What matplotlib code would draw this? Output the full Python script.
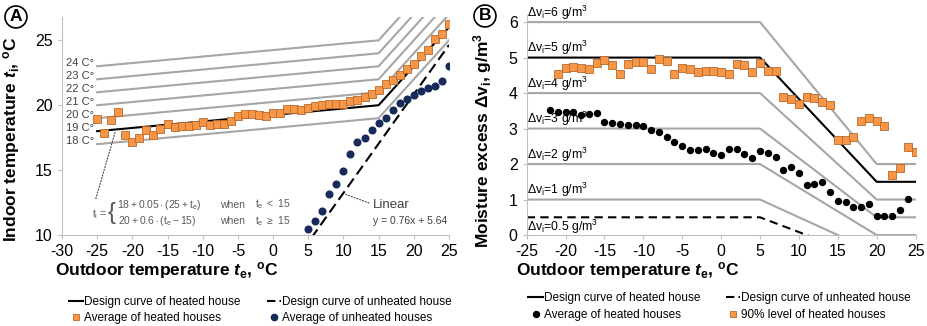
import numpy as np
import matplotlib.pyplot as plt
from matplotlib.lines import Line2D

plt.rcParams['font.family'] = ['Liberation Sans', 'DejaVu Sans']
plt.rcParams['axes.unicode_minus'] = False
plt.rcParams['mathtext.fontset'] = 'custom'
plt.rcParams['mathtext.rm'] = 'Liberation Sans'
plt.rcParams['mathtext.it'] = 'Liberation Sans:italic'
plt.rcParams['mathtext.bf'] = 'Liberation Sans:bold'
plt.rcParams['mathtext.bfit'] = 'Liberation Sans:bold:italic'

# ---- panel A data ----
te_heated = list(range(-25, 26))
ti_heated = [18.92, 17.87, 18.85, 19.47, 17.68, 17.19, 17.45, 18.07, 17.71, 18.15,
             18.59, 18.36, 18.41, 18.41, 18.49, 18.69, 18.49, 18.57, 18.57, 18.82,
             19.16, 19.36, 19.29, 19.23, 19.2, 19.39, 19.4, 19.7, 19.72, 19.62,
             19.81, 19.91, 20.01, 20.12, 20.12, 20.13, 20.32, 20.37, 20.63, 20.86,
             21.2, 21.64, 21.98, 22.36, 22.78, 23.19, 23.76, 24.27, 25.12, 25.46, 26.29]
te_unheated = list(range(5, 26))
ti_unheated = [10.46, 11.1, 11.88, 13.2, 13.94, 14.9, 16.24, 17.14, 17.5, 18.07,
               18.61, 19.05, 19.65, 20.14, 20.45, 20.81, 21.07, 21.36, 21.51, 21.84, 23.0]
ti_base = [17, 18, 19, 20, 21, 22, 23]          # indoor temp at te = -25
ti_labels = ['18 C°', '19 C°', '20 C°', '21 C°', '22 C°', '23 C°', '24 C°']
lin_slope, lin_icpt = 0.76, 5.64

# ---- panel B data ----
te_avg = list(range(-22, 25))
dv_avg = [3.52, 3.46, 3.46, 3.46, 3.37, 3.41, 3.43, 3.18, 3.15, 3.13, 3.11, 3.1, 3.08,
          2.97, 2.9, 2.77, 2.61, 2.51, 2.39, 2.39, 2.42, 2.32, 2.25, 2.43, 2.43,
          2.28, 2.16, 2.37, 2.31, 2.2, 1.84, 1.92, 1.76, 1.42, 1.45, 1.5, 1.21,
          0.96, 0.94, 0.78, 0.78, 0.88, 0.53, 0.53, 0.53, 0.70, 1.01]
te_90 = list(range(-21, 26))
dv_90 = [4.54, 4.7, 4.73, 4.7, 4.68, 4.85, 4.92, 4.78, 4.53, 4.81, 4.87, 4.87, 4.69,
         4.95, 4.9, 4.54, 4.7, 4.67, 4.6, 4.63, 4.63, 4.59, 4.54, 4.81, 4.79, 4.59,
         4.85, 4.61, 4.62, 3.9, 3.84, 3.7, 3.9, 3.87, 3.76, 3.66, 2.68, 2.68, 2.75,
         3.2, 3.3, 3.2, 3.06, 1.69, 1.9, 2.47, 2.33]
dv_levels = [6, 5, 4, 3, 2, 1, 0.5]
dv_labels = ['6', '5', '4', '3', '2', '1', '0.5']

ORANGE = '#f79646'
ORANGE_EDGE = '#b66a2c'
NAVY = '#172a5a'
GRAY = '#a6a6a6'
AXGRAY = '#bfbfbf'
TXT = '#404040'


def ti_curve(base, te):
    te = np.asarray(te, float)
    return np.where(te < 15, base + 0.05 * (25 + te), base + 2 + 0.6 * (te - 15))


def dv_curve(v, te):
    te = np.asarray(te, float)
    end = (v - 2) / 2
    return np.where(te <= 5, v, np.where(te >= 20, end, v + (end - v) * (te - 5) / 15))


def style_axes(ax):
    for s in ['top', 'right']:
        ax.spines[s].set_visible(False)
    for s in ['left', 'bottom']:
        ax.spines[s].set_color(AXGRAY)
    ax.tick_params(axis='both', colors=AXGRAY, labelcolor='black', labelsize=11.5,
                   length=3, width=0.8)


fig = plt.figure(figsize=(9.28, 3.26), dpi=100)

# ================= panel A =================
ax1 = fig.add_axes([0.0668, 0.279, 0.417, 0.669])
te_line = np.array([-25, 15, 25])
for base in ti_base:
    if base == 18:
        continue
    ax1.plot(te_line, ti_curve(base, te_line), color=GRAY, lw=1.5, zorder=1)
for base, lab in zip(ti_base, ti_labels):
    ax1.text(-25.4, base + 0.25, lab, ha='right', va='center', fontsize=8, color=TXT)
ax1.plot(te_line, ti_curve(18, te_line), color='black', lw=1.5, zorder=2)
te_lin = np.array([-30, 25])
ax1.plot(te_lin, lin_slope * te_lin + lin_icpt, color='black', lw=1.5,
         ls=(0, (5, 2.5)), zorder=2)
ax1.plot(te_heated, ti_heated, ls='none', marker='s', ms=5.5, mfc=ORANGE,
         mec=ORANGE_EDGE, mew=0.6, zorder=3)
ax1.plot(te_unheated, ti_unheated, ls='none', marker='o', ms=4.8, color=NAVY, zorder=3)

ax1.set_xlim(-30, 25)
ax1.set_ylim(10, 26.8)
ax1.set_xticks(range(-30, 26, 5))
ax1.set_yticks([10, 15, 20, 25])
style_axes(ax1)
ax1.set_xlabel(r'Outdoor temperature $\mathbfit{t}_\mathbf{e}$, $^\mathbf{o}$C',
               fontsize=12.5, fontweight='bold')
ax1.xaxis.set_label_coords(0.27, -0.115)
ax1.set_ylabel(r'Indoor temperature $\mathbfit{t}_\mathbf{i}$, $^\mathbf{o}$C',
               fontsize=12.5, fontweight='bold')
ax1.yaxis.set_label_coords(-0.103, 0.44)

# formula
fcol = '#595959'
ax1.text(-25.8, 11.65, r'$\mathrm{t}_\mathrm{i}$ =', fontsize=7.5, color=fcol, va='center')
ax1.text(-23.5, 11.7, '{', fontsize=17, color=fcol, va='center')
ax1.text(-22.2, 12.35, r'$18 + 0.05\cdot(25 + \mathrm{t}_\mathrm{e})$', fontsize=7.5,
         color=fcol, va='center')
ax1.text(-22.0, 11.1, r'$20 + 0.6\cdot(\mathrm{t}_\mathrm{e} - 15)$', fontsize=7.5,
         color=fcol, va='center')
ax1.text(-7.6, 12.35, 'when', fontsize=7.5, color=fcol, va='center')
ax1.text(-7.6, 11.1, 'when', fontsize=7.5, color=fcol, va='center')
ax1.text(-2.6, 12.35, r'$\mathrm{t}_\mathrm{e}\ <\ 15$', fontsize=7.5, color=fcol, va='center')
ax1.text(-2.6, 11.1, r'$\mathrm{t}_\mathrm{e}\ \geq\ 15$', fontsize=7.5, color=fcol, va='center')
ax1.annotate('', xy=(-22.3, 18.2), xytext=(-25.3, 12.6),
             arrowprops=dict(arrowstyle='-', ls=':', color='#404040', lw=0.8))
ax1.annotate('', xy=(9.95, lin_slope * 9.95 + lin_icpt), xytext=(14.0, 12.4),
             arrowprops=dict(arrowstyle='-', ls=':', color='#404040', lw=0.8))
ax1.text(14.15, 12.35, 'Linear', fontsize=9.5, color=TXT, va='center')
ax1.text(14.15, 11.1, 'y = 0.76x + 5.64', fontsize=7.5, color=TXT, va='center')

leg1 = [Line2D([], [], color='black', lw=1.5),
        Line2D([], [], ls='none', marker='s', ms=5, mfc=ORANGE, mec=ORANGE_EDGE, mew=0.6),
        Line2D([], [], color='black', lw=1.5, ls=(0, (4, 2))),
        Line2D([], [], ls='none', marker='o', ms=4.5, color=NAVY)]
ax1.legend(leg1, ['Design curve of heated house', 'Average of heated houses',
                  'Design curve of unheated house', 'Average of unheated houses'],
           ncol=2, frameon=False, fontsize=8.5, handlelength=1.2, handletextpad=0.1,
           columnspacing=2.2, labelspacing=0.35, loc='upper left',
           bbox_to_anchor=(0.063, 0.125), bbox_transform=fig.transFigure)

# ================= panel B =================
ax2 = fig.add_axes([0.5676, 0.279, 0.419, 0.675])
te_b = np.array([-25, 5, 20, 25])
for v, lab in zip(dv_levels, dv_labels):
    if v == 5:
        col, ls, z = 'black', '-', 2
    elif v == 0.5:
        col, ls, z = 'black', (0, (4, 2.5)), 2
    else:
        col, ls, z = GRAY, '-', 1
    ax2.plot(te_b, dv_curve(v, te_b), color=col, lw=1.5, ls=ls, zorder=z)
    off = -0.27 if v == 0.5 else 0.27
    ax2.text(-25, v + off, r'$\Delta\mathrm{v}_\mathrm{i}$=' + lab + r' g/m$^3$',
             fontsize=8.8, color='black', va='center', clip_on=False)
ax2.plot(te_90, dv_90, ls='none', marker='s', ms=5.5, mfc=ORANGE, mec=ORANGE_EDGE,
         mew=0.6, zorder=3)
ax2.plot(te_avg, dv_avg, ls='none', marker='o', ms=4.3, color='black', zorder=3)

ax2.set_xlim(-25, 25)
ax2.set_ylim(0, 6.2)
ax2.set_xticks(range(-25, 26, 5))
ax2.set_yticks(range(0, 7))
style_axes(ax2)
ax2.set_xlabel(r'Outdoor temperature $\mathbfit{t}_\mathbf{e}$, $^\mathbf{o}$C',
               fontsize=12.5, fontweight='bold')
ax2.xaxis.set_label_coords(0.26, -0.115)
ax2.set_ylabel(r'Moisture excess $\mathbf{\Delta v}_\mathbf{i}$, g/m$^\mathbf{3}$',
               fontsize=12.5, fontweight='bold')
ax2.yaxis.set_label_coords(-0.085, 0.43)

leg2 = [Line2D([], [], color='black', lw=1.5),
        Line2D([], [], ls='none', marker='o', ms=4.3, color='black'),
        Line2D([], [], color='black', lw=1.5, ls=(0, (4, 2))),
        Line2D([], [], ls='none', marker='s', ms=5, mfc=ORANGE, mec=ORANGE_EDGE, mew=0.6)]
ax2.legend(leg2, ['Design curve of heated house', 'Average of heated houses',
                  'Design curve of unheated house', '90% level of heated houses'],
           ncol=2, frameon=False, fontsize=8.5, handlelength=1.2, handletextpad=0.1,
           columnspacing=2.2, labelspacing=0.4, loc='upper left',
           bbox_to_anchor=(0.558, 0.137), bbox_transform=fig.transFigure)

# panel letters
for x, y, s in [(0.0172, 0.948, 'A'), (0.5226, 0.951, 'B')]:
    fig.text(x, y, s, fontsize=12.5, fontweight='bold', ha='center', va='center',
             bbox=dict(boxstyle='circle,pad=0.2', fc='white', ec='black', lw=1.2))

fig.savefig('out.png', dpi=100)
